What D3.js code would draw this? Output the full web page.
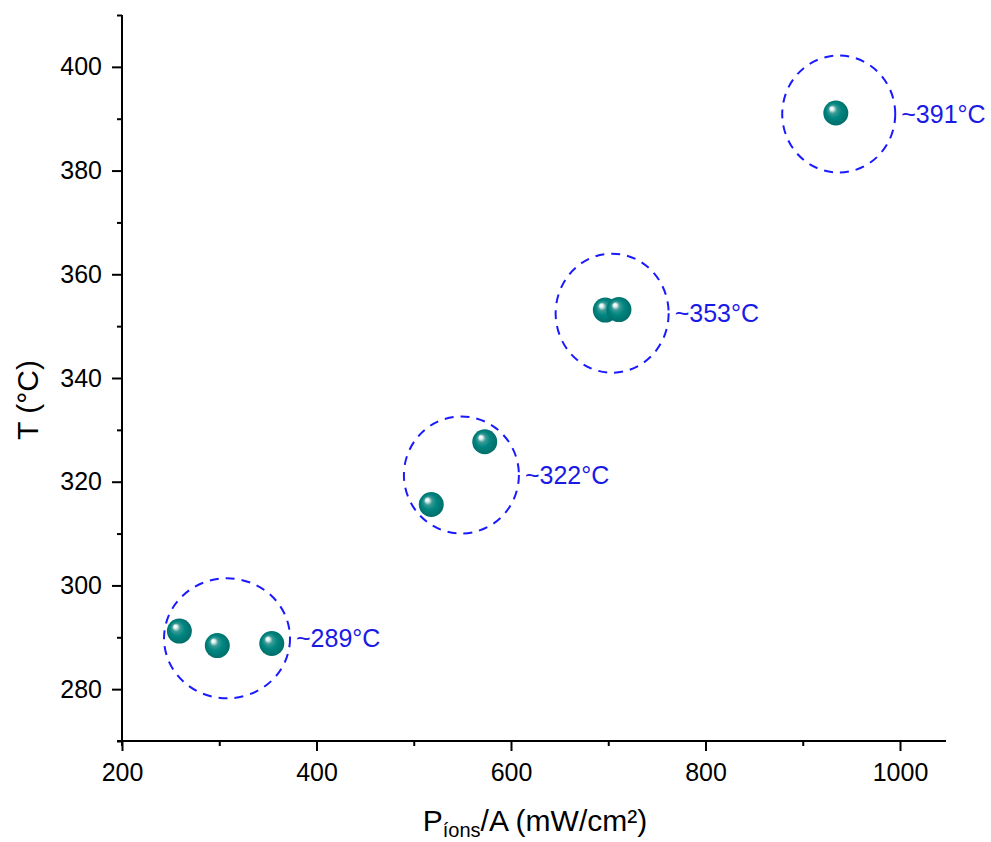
<!DOCTYPE html>
<html><head><meta charset="utf-8">
<script src="https://cdn.jsdelivr.net/npm/d3@7"></script>
<style>body{margin:0;background:#fff}svg{display:block}</style>
</head><body>
<svg id="c" width="991" height="842"></svg>
<script>
// Data
const powerDensity = [259, 298, 354, 518, 573, 697, 711, 934];
const temperature = [291.2, 288.4, 288.8, 315.6, 327.7, 353.1, 353.2, 391.1];
const clusterX = [308, 549, 704, 937];
const clusterY = [289.8, 321.3, 352.5, 390.9];
const clusterLabels = ["~289°C", "~322°C", "~353°C", "~391°C"];
const xTicks = [200, 400, 600, 800, 1000];
const yTicks = [280, 300, 320, 340, 360, 380, 400];

const svg = d3.select("#c");
const L = 122, R = 946, T = 15, B = 741;
const x = d3.scaleLinear().domain([200, 1050]).range([L, L + 850 * 0.9725]);
const y = d3.scaleLinear().domain([270, 410]).range([B, T]);
const font = "Arial, 'Liberation Sans', sans-serif";

// gradient
const defs = svg.append("defs");
const g = defs.append("radialGradient").attr("id", "ball").attr("cx", "50%").attr("cy", "50%").attr("r", "55%").attr("fx", "32%").attr("fy", "30%");
g.append("stop").attr("offset", "0%").attr("stop-color", "#ffffff");
g.append("stop").attr("offset", "12%").attr("stop-color", "#e6f3f2");
g.append("stop").attr("offset", "30%").attr("stop-color", "#3a9a95");
g.append("stop").attr("offset", "55%").attr("stop-color", "#008580");
g.append("stop").attr("offset", "100%").attr("stop-color", "#006a66");

// axes
const xAxis = d3.axisBottom(x).tickValues(xTicks).tickSize(10).tickSizeOuter(0).tickPadding(12).tickFormat(d3.format("d"));
const xMinor = d3.axisBottom(x).tickValues([300, 500, 700, 900]).tickSize(5).tickFormat("");
const yAxis = d3.axisLeft(y).tickValues(yTicks).tickSize(10).tickSizeOuter(0).tickPadding(10);
const yMinor = d3.axisLeft(y).tickValues([270, 290, 310, 330, 350, 370, 390, 410]).tickSize(5).tickFormat("");

function style(sel) {
  sel.select(".domain").remove();
  sel.selectAll("line").attr("stroke", "#000").attr("stroke-width", 2);
  sel.selectAll("text").attr("font-family", font).attr("font-size", 25).attr("fill", "#000");
}
const gx = svg.append("g").attr("transform", `translate(0,${B})`).call(xAxis); style(gx);
const gxm = svg.append("g").attr("transform", `translate(0,${B})`).call(xMinor); style(gxm);
const gy = svg.append("g").attr("transform", `translate(${L},0)`).call(yAxis); style(gy);
const gym = svg.append("g").attr("transform", `translate(${L},0)`).call(yMinor); style(gym);
gx.attr("font-size", 25); gy.attr("font-size", 25);
svg.append("line").attr("x1", L - 5).attr("x2", R).attr("y1", B).attr("y2", B).attr("stroke", "#000").attr("stroke-width", 2);
svg.append("line").attr("x1", L).attr("x2", L).attr("y1", T).attr("y2", B + 5).attr("stroke", "#000").attr("stroke-width", 2);

// axis titles
svg.append("text").attr("transform", `translate(38,400) rotate(-90)`)
  .attr("text-anchor", "middle").attr("font-family", font).attr("font-size", 30).text("T (°C)");
const xt = svg.append("text").attr("x", 535).attr("y", 831).attr("text-anchor", "middle")
  .attr("font-family", font).attr("font-size", 30);
xt.append("tspan").text("P");
xt.append("tspan").attr("font-size", 20).attr("dy", 6).text("íons");
xt.append("tspan").attr("dy", -6).text("/A (mW/cm²)");

// cluster ellipses
const rx = [63, 57.5, 56.5, 56.5], ry = [60, 58.5, 59.5, 58.5];
svg.append("g").selectAll("ellipse").data(clusterX).join("ellipse")
  .attr("cx", (d) => x(d)).attr("cy", (d, i) => y(clusterY[i]))
  .attr("rx", (d, i) => rx[i]).attr("ry", (d, i) => ry[i])
  .attr("fill", "none").attr("stroke", "#1a1aff").attr("stroke-width", 2).attr("stroke-dasharray", "9,7");
svg.append("g").selectAll("text").data(clusterLabels).join("text")
  .attr("x", (d, i) => x(clusterX[i]) + rx[i] + 6).attr("y", (d, i) => y(clusterY[i]) + 9)
  .attr("font-family", font).attr("font-size", 25).attr("fill", "#1a1ae6").text((d) => d);

// points
svg.append("g").selectAll("circle").data(powerDensity).join("circle")
  .attr("cx", (d) => x(d)).attr("cy", (d, i) => y(temperature[i])).attr("r", 12.5)
  .attr("fill", "url(#ball)");
</script>
</body></html>
